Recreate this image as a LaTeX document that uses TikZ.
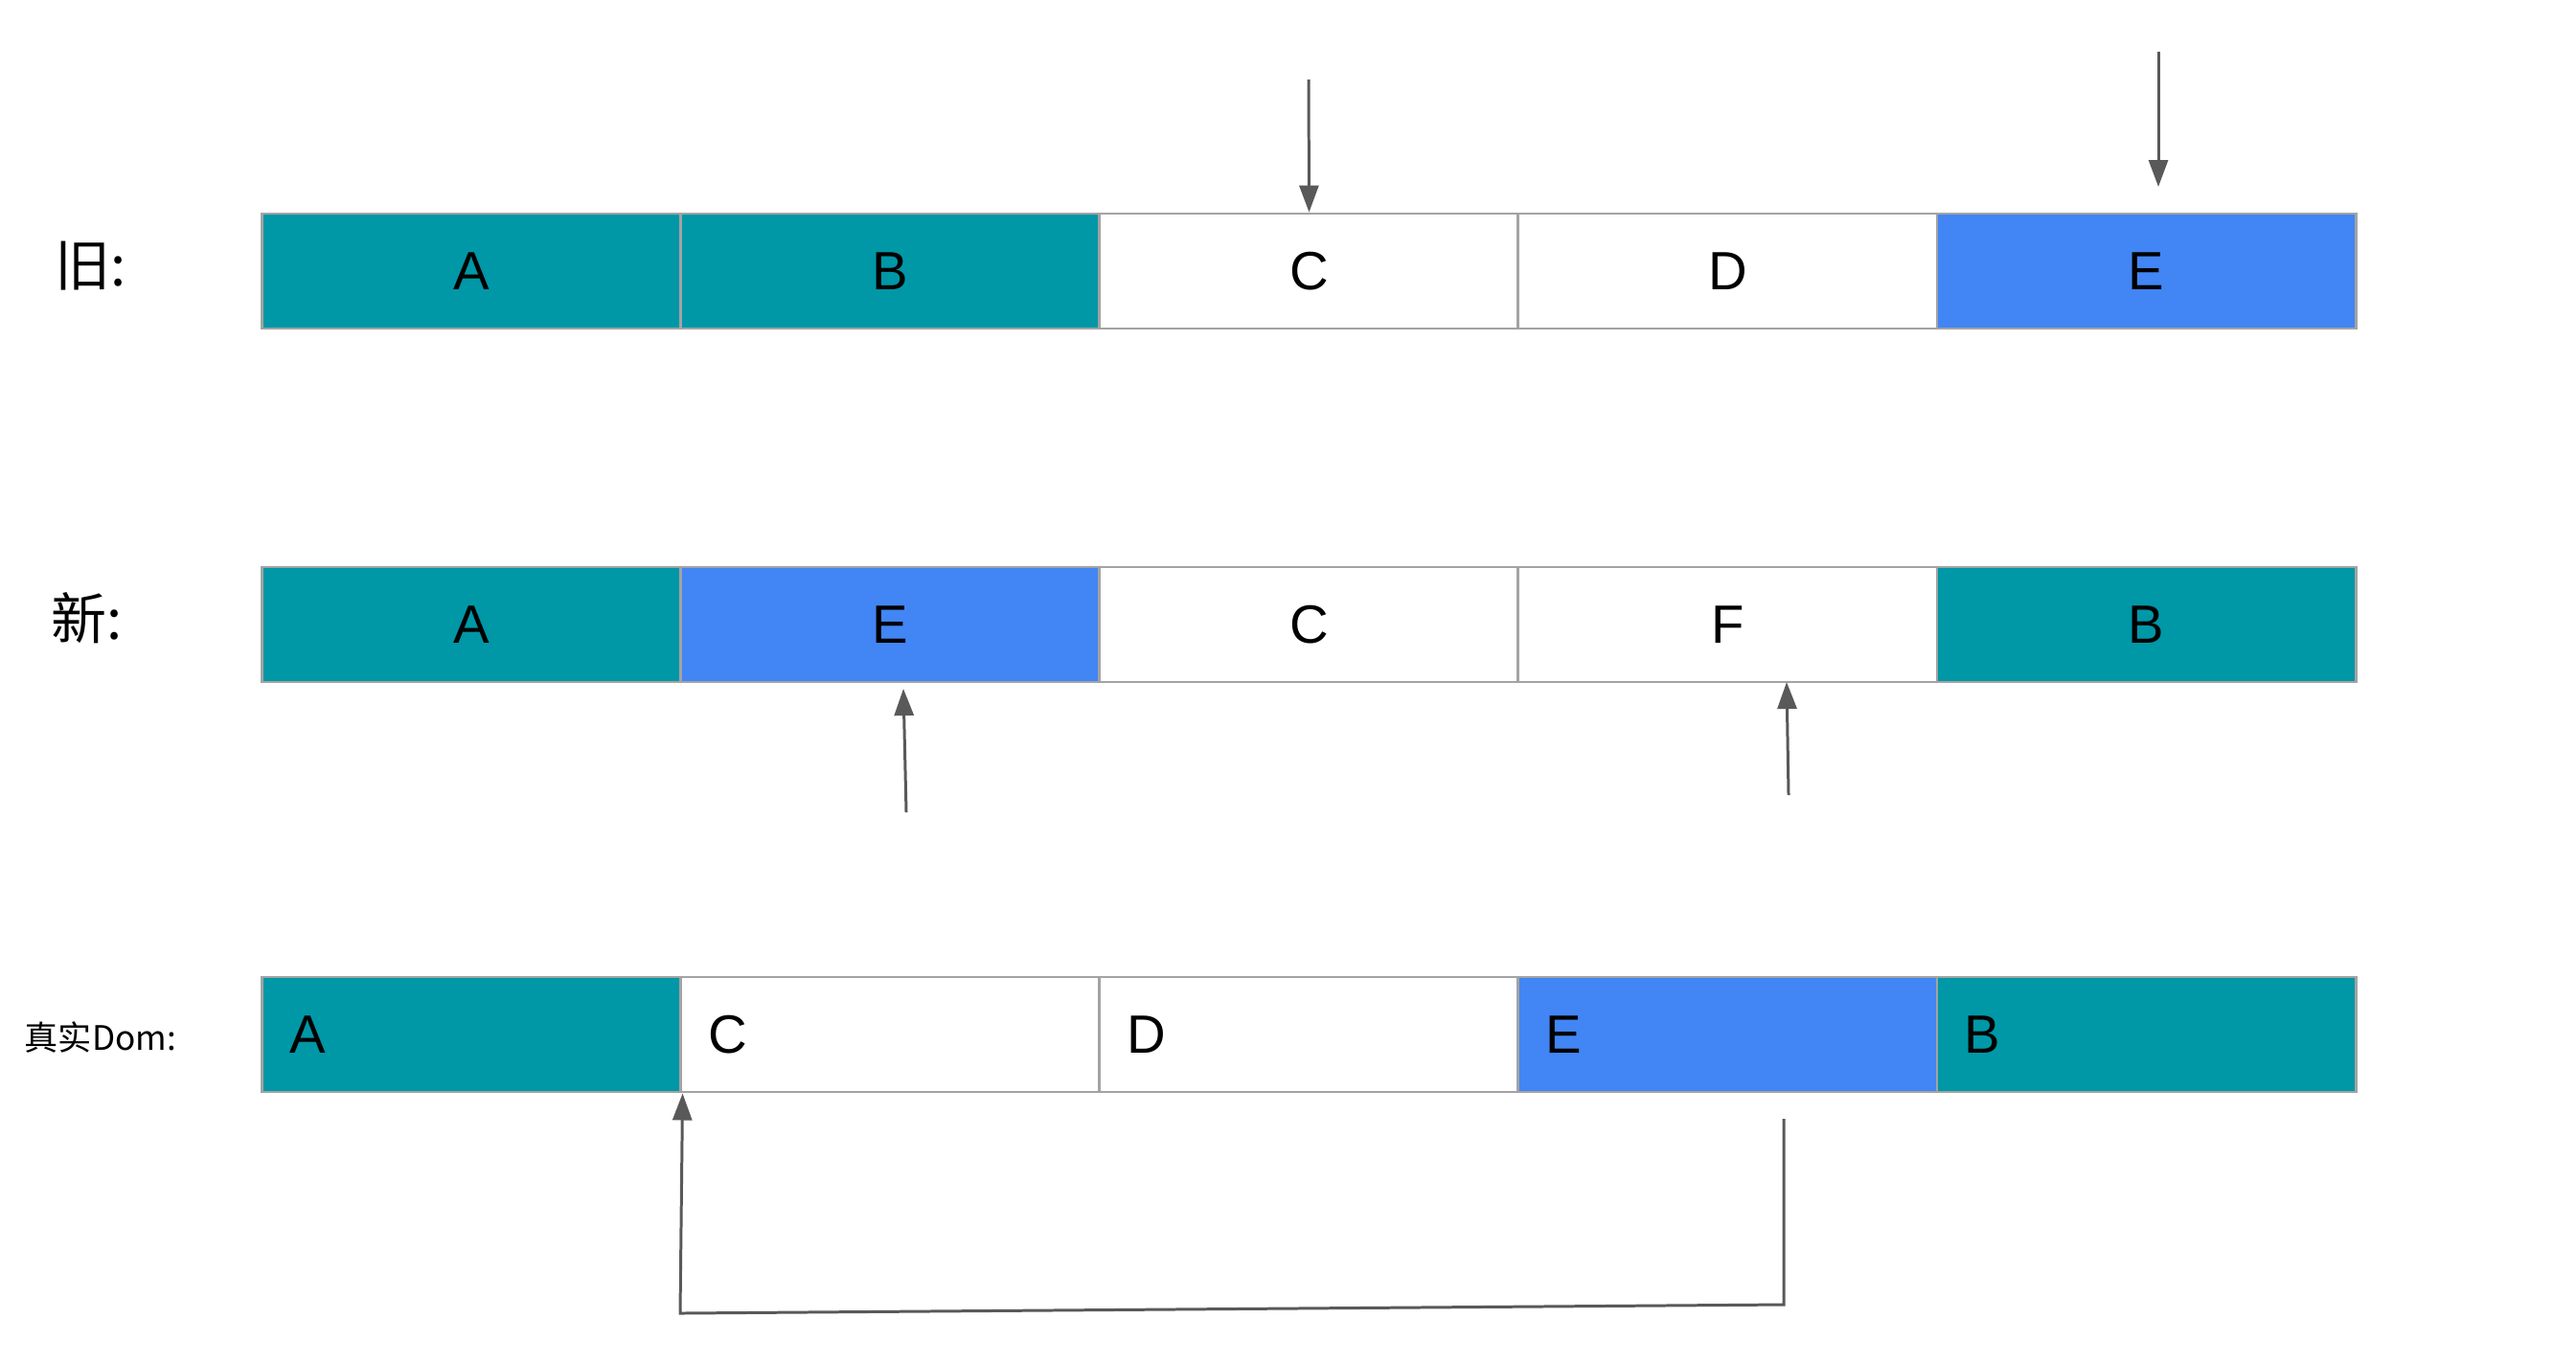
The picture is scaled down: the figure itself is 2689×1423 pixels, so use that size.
\documentclass[tikz,border=0pt]{standalone}
\usepackage{fontspec}
\setmainfont{Liberation Sans}
\newfontfamily\cjk{Noto Sans CJK SC}
\usetikzlibrary{arrows.meta}
\definecolor{tealcell}{HTML}{0097A7}
\definecolor{bluecell}{HTML}{4285F4}
\definecolor{cellgray}{HTML}{A3A3A3}
\definecolor{arrowgray}{HTML}{595959}

\begin{document}
\begin{tikzpicture}[x=0.01cm, y=-0.01cm,
  cell/.style={draw=cellgray, line width=0.8pt, minimum width=4.37cm,
    minimum height=1.2cm, inner sep=0pt, font=\fontsize{16}{19}\selectfont},
  domcell/.style={cell, text width=3.79cm, inner xsep=0.29cm, align=left},
  rowlab/.style={anchor=west, inner sep=0pt, font=\fontsize{16.5}{20}\selectfont\cjk},
  arr/.style={draw=arrowgray, line width=0.85pt,
    -{Triangle[length=0.28cm, width=0.2cm]}},
]
  \useasboundingbox (0,0) rectangle (2689,1423);
  % 三行：旧、新、真实 Dom
  \foreach \t/\c [count=\i] in {A/tealcell, B/tealcell, C/white, D/white, E/bluecell}
    \node[cell, fill=\c] (o\i) at ({274+437*(\i-0.5)},283) {\t};
  \foreach \t/\c [count=\i] in {A/tealcell, E/bluecell, C/white, F/white, B/tealcell}
    \node[cell, fill=\c] (n\i) at ({274+437*(\i-0.5)},652) {\t};
  \foreach \t/\c [count=\i] in {A/tealcell, C/white, D/white, E/bluecell, B/tealcell}
    \node[domcell, fill=\c] (r\i) at ({274+437*(\i-0.5)},1080) {\t};
  \node[rowlab] (lold) at (57,278) {旧:};
  \node[rowlab] (lnew) at (53,645) {新:};
  \node[rowlab, font=\fontsize{10}{12}\selectfont\cjk] (ldom) at (25,1083) {真实Dom:};
  % 指针
  \coordinate (o3top) at (1366,83);
  \coordinate (o5top) at (2253,54);
  \coordinate (o5tip) at (2253,195);
  \coordinate (n2foot) at (946,848);
  \coordinate (n2tip) at (943,719);
  \coordinate (n4foot) at (1867,830);
  \coordinate (n4tip) at (1865,712);
  \coordinate (r4foot) at (1862,1168);
  \draw[arr] (o3top) -- (o3.north);
  \draw[arr] (o5top) -- (o5tip);
  \draw[arr] (n2foot) -- (n2tip);
  \draw[arr] (n4foot) -- (n4tip);
  \draw[arr] (r4foot) -- (1862,1362) -- (710,1371) -- (r1.south east);
\end{tikzpicture}
\end{document}
